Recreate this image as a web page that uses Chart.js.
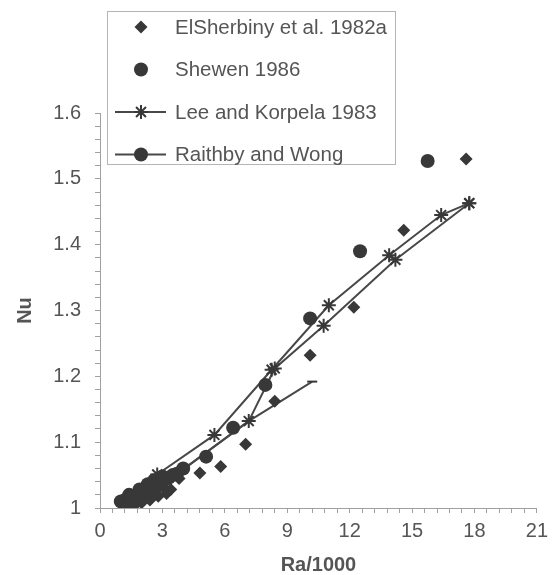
<!DOCTYPE html>
<html>
<head>
<meta charset="utf-8">
<title>Nu vs Ra/1000</title>
<script src="https://cdn.jsdelivr.net/npm/chart.js@4.4.0/dist/chart.umd.min.js"></script>
<style>
  html, body { margin: 0; padding: 0; background: #fff; }
  #wrap { width: 554px; height: 575px; }
</style>
</head>
<body>
<div id="wrap"><canvas id="nuChart" width="554" height="575"></canvas></div>
<script>
// ElSherbiny et al. 1982a (diamonds)
const elsherbinyX = [1.3, 1.5, 1.6, 1.8, 2.0, 2.1, 2.4, 2.4, 2.7, 2.8, 3.0, 3.2, 3.4, 3.8, 4.8, 5.8, 7.0, 8.4, 10.1, 12.2, 14.6, 17.6];
const elsherbinyY = [1.003, 1.008, 1.002, 1.012, 1.008, 1.017, 1.012, 1.022, 1.027, 1.018, 1.033, 1.022, 1.028, 1.045, 1.053, 1.063, 1.097, 1.162, 1.232, 1.305, 1.422, 1.53];

// Shewen 1986 (circles)
const shewenX = [1.0, 1.2, 1.4, 1.5, 1.8, 1.9, 2.1, 2.3, 2.4, 2.6, 2.7, 3.0, 3.0, 3.3, 3.5, 3.7, 4.0, 5.1, 6.4, 7.95, 10.1, 12.5, 15.75];
const shewenY = [1.01, 1.012, 1.02, 1.016, 1.02, 1.028, 1.025, 1.036, 1.03, 1.042, 1.036, 1.042, 1.048, 1.046, 1.05, 1.052, 1.06, 1.078, 1.122, 1.187, 1.288, 1.39, 1.527];

// Lee and Korpela 1983 (two curves, asterisks)
const leeUpperX = [1.1, 2.75, 5.5, 8.25, 11.0, 13.9, 16.4, 17.75];
const leeUpperY = [1.005, 1.051, 1.111, 1.21, 1.308, 1.384, 1.445, 1.463];
const leeLowerX = [1.2, 3.2, 7.15, 8.4, 10.75, 14.2, 17.75];
const leeLowerY = [1.003, 1.04, 1.132, 1.212, 1.277, 1.377, 1.463];

// Raithby and Wong
const raithbyX = [1.2, 3.2, 7.15, 10.2];
const raithbyY = [1.003, 1.04, 1.132, 1.192];

const xTickStep = 0.6;
const yTickStep = 0.02;

const ink = '#383838';
const lineInk = '#484848';
const textInk = '#555555';
const axisInk = '#a0a0a0';
const fontFamily = "'Liberation Sans', Arial, sans-serif";

function pts(xs, ys) {
    return xs.map((x, i) => ({ x: x, y: ys[i] }));
}

const datasets = [
    {
        label: 'ElSherbiny et al. 1982a',
        data: pts(elsherbinyX, elsherbinyY),
        showLine: false,
        pointStyle: 'rectRot',
        pointRadius: 6.5,
        backgroundColor: ink,
        borderColor: ink,
        pointBorderWidth: 0
    },
    {
        label: 'Shewen 1986',
        data: pts(shewenX, shewenY),
        showLine: false,
        pointStyle: 'circle',
        pointRadius: 7,
        backgroundColor: ink,
        borderColor: ink,
        pointBorderWidth: 0
    },
    {
        label: 'Lee and Korpela 1983',
        data: pts(leeUpperX, leeUpperY),
        showLine: true,
        borderColor: lineInk,
        borderWidth: 2,
        pointStyle: 'star',
        pointRadius: 7,
        pointBorderWidth: 2,
        pointBorderColor: ink,
        backgroundColor: ink
    },
    {
        label: 'Lee and Korpela 1983 (b)',
        data: pts(leeLowerX, leeLowerY),
        showLine: true,
        borderColor: lineInk,
        borderWidth: 2,
        pointStyle: 'star',
        pointRadius: 7,
        pointBorderWidth: 2,
        pointBorderColor: ink,
        backgroundColor: ink
    },
    {
        label: 'Raithby and Wong',
        data: pts(raithbyX, raithbyY),
        showLine: true,
        borderColor: lineInk,
        borderWidth: 2,
        // only the end of the curve shows a small dash
        pointStyle: raithbyX.map((x, i) => i === raithbyX.length - 1 ? 'line' : 'circle'),
        pointRadius: raithbyX.map((x, i) => i === raithbyX.length - 1 ? 5 : 0),
        pointBorderWidth: 2,
        pointBorderColor: ink,
        backgroundColor: ink
    }
];

// legend rows: [label, marker, has line]
const legendRows = [
    ['ElSherbiny et al. 1982a', 'diamond', false],
    ['Shewen 1986', 'circle', false],
    ['Lee and Korpela 1983', 'asterisk', true],
    ['Raithby and Wong', 'circle', true]
];

function drawMarker(ctx, kind, x, y) {
    ctx.fillStyle = ink;
    ctx.strokeStyle = ink;
    ctx.beginPath();
    if (kind === 'diamond') {
        ctx.moveTo(x, y - 6.5);
        ctx.lineTo(x + 6.5, y);
        ctx.lineTo(x, y + 6.5);
        ctx.lineTo(x - 6.5, y);
        ctx.closePath();
        ctx.fill();
    } else if (kind === 'circle') {
        ctx.arc(x, y, 7, 0, Math.PI * 2);
        ctx.fill();
    } else {
        ctx.lineWidth = 2;
        const r = 7;
        const d = r * Math.SQRT1_2;
        ctx.moveTo(x - d, y - d); ctx.lineTo(x + d, y + d);
        ctx.moveTo(x + d, y - d); ctx.lineTo(x - d, y + d);
        ctx.moveTo(x, y - r); ctx.lineTo(x, y + r);
        ctx.moveTo(x - r, y); ctx.lineTo(x + r, y);
        ctx.stroke();
    }
}

const boxLegend = {
    id: 'boxLegend',
    afterDraw(chart) {
        const ctx = chart.ctx;
        const left = 107, top = 11, w = 288, h = 153;
        ctx.save();
        ctx.fillStyle = '#ffffff';
        ctx.fillRect(left, top, w, h);
        ctx.strokeStyle = '#b4b4b4';
        ctx.lineWidth = 1;
        ctx.strokeRect(left + 0.5, top + 0.5, w, h);

        legendRows.forEach((row, i) => {
            const y = 27 + i * 42.5;
            if (row[2]) {
                ctx.strokeStyle = lineInk;
                ctx.lineWidth = 2;
                ctx.beginPath();
                ctx.moveTo(115, y);
                ctx.lineTo(166, y);
                ctx.stroke();
            }
            drawMarker(ctx, row[1], 141, y);
            ctx.fillStyle = textInk;
            ctx.font = '20.5px ' + fontFamily;
            ctx.textBaseline = 'middle';
            ctx.textAlign = 'left';
            ctx.fillText(row[0], 175, y + 1);
        });
        ctx.restore();
    }
};

function isMultiple(v, step) {
    return Math.abs(v / step - Math.round(v / step)) < 1e-6;
}

const ctx = document.getElementById('nuChart');
new Chart(ctx, {
    type: 'scatter',
    data: { datasets: datasets },
    options: {
        responsive: false,
        animation: false,
        layout: { padding: { top: 113, right: 13, left: 0, bottom: 0 } },
        plugins: {
            legend: { display: false },
            tooltip: { enabled: false }
        },
        scales: {
            x: {
                type: 'linear',
                min: 0,
                max: 21,
                afterFit: function(scale) { scale.height = 67; },
                grid: {
                    drawOnChartArea: false,
                    drawTicks: true,
                    tickLength: 5,
                    tickColor: axisInk
                },
                border: { color: axisInk, width: 1 },
                ticks: {
                    stepSize: xTickStep,
                    autoSkip: false,
                    maxRotation: 0,
                    minRotation: 0,
                    padding: 6,
                    color: textInk,
                    font: { family: fontFamily, size: 20 },
                    callback: function(value) {
                        return isMultiple(value, 3) ? String(Math.round(value)) : '';
                    }
                },
                title: {
                    display: true,
                    text: 'Ra/1000',
                    color: textInk,
                    padding: 0,
                    font: { family: fontFamily, size: 20, weight: 'bold', lineHeight: 1 }
                }
            },
            y: {
                type: 'linear',
                min: 1,
                max: 1.6,
                afterFit: function(scale) { scale.width = 100; },
                grid: {
                    drawOnChartArea: false,
                    drawTicks: true,
                    tickLength: 5,
                    tickColor: axisInk
                },
                border: { color: axisInk, width: 1 },
                ticks: {
                    stepSize: yTickStep,
                    autoSkip: false,
                    padding: 14,
                    color: textInk,
                    font: { family: fontFamily, size: 20 },
                    callback: function(value) {
                        return isMultiple(value, 0.1) ? String(Number(value.toFixed(1))) : '';
                    }
                },
                title: {
                    display: true,
                    text: 'Nu',
                    color: textInk,
                    padding: { top: 13, bottom: 0 },
                    font: { family: fontFamily, size: 20, weight: 'bold', lineHeight: 1.2 }
                }
            }
        }
    },
    plugins: [boxLegend]
});
</script>
</body>
</html>
